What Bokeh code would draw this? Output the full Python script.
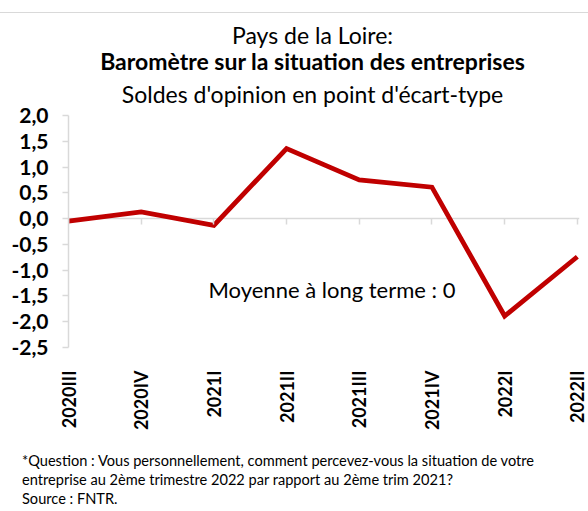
from bokeh.plotting import figure
from bokeh.models import Range1d, FixedTicker, LinearAxis, Label, Span, CustomJSTickFormatter, Div
from bokeh.layouts import column
from bokeh.embed import file_html
from bokeh.resources import INLINE

# ---- data ----
quarters = ["2020III", "2020IV", "2021I", "2021II", "2021III", "2021IV", "2022I", "2022II"]
values = [-0.05, 0.13, -0.13, 1.36, 0.75, 0.61, -1.89, -0.74]
y_ticks = [-2.5, -2.0, -1.5, -1.0, -0.5, 0.0, 0.5, 1.0, 1.5, 2.0]
y_tick_labels = ["-2,5", "-2,0", "-1,5", "-1,0", "-0,5", "0,0", "0,5", "1,0", "1,5", "2,0"]
title_lines = ["Pays de la Loire:", "Baromètre sur la situation des entreprises",
               "Soldes d'opinion en point d'écart-type"]
mean_label = "Moyenne à long terme : 0"
note_lines = ["*Question : Vous personnellement, comment percevez-vous la situation de votre",
              "entreprise au 2ème trimestre 2022 par rapport au 2ème trim 2021?",
              "Source : FNTR."]

FONT = "Lato"
GRAY = "#d9d9d9"
RED = "#c00000"
W = 588

x_pos = list(range(len(quarters)))

# ---- top rule ----
rule_div = Div(text="", width=W, height=13, margin=0,
               styles={"border-bottom": f"1px solid {GRAY}", "box-sizing": "border-box"})

# ---- title block ----
line_css = "height:22px;line-height:22px;font-size:23px;text-align:center;padding-left:37px;white-space:nowrap;"
title_html = (
    f'<div style="width:{W}px;font-family:{FONT};color:black;padding-top:11px;">'
    f'<div style="{line_css}">{title_lines[0]}</div>'
    f'<div style="margin-top:4px;{line_css}font-weight:bold;">{title_lines[1]}</div>'
    f'<div style="margin-top:11px;{line_css}">{title_lines[2]}</div>'
    '</div>'
)
title_div = Div(text=title_html, width=W, height=87, margin=0, styles={"overflow": "visible"})

# ---- chart ----
p = figure(width=W, height=333, x_range=Range1d(0, 7.03), y_range=Range1d(-2.5, 2.0),
           output_backend="svg", toolbar_location=None, margin=0,
           min_border_left=68, min_border_right=9, min_border_top=15, min_border_bottom=78)
p.grid.visible = False
p.outline_line_color = None
p.background_fill_color = "white"
p.border_fill_color = None

xa = p.below[0]
xa.ticker = FixedTicker(ticks=x_pos)
xa.formatter = CustomJSTickFormatter(args=dict(qlabels=quarters),
                                     code="const i = Math.round(tick); return qlabels[i] ?? '';")
xa.axis_line_color = None
xa.major_tick_line_color = None
xa.minor_tick_line_color = None
xa.major_label_orientation = 1.5707963
xa.major_label_standoff = 17
xa.major_label_text_font = FONT
xa.major_label_text_font_style = "bold"
xa.major_label_text_font_size = "18px"
xa.major_label_text_color = "black"

# zero line
p.add_layout(Span(location=0, dimension="width", line_color=GRAY, line_width=1.5, level="underlay"))

# tick marks hanging from the zero line
zero_axis = LinearAxis(fixed_location=0, ticker=FixedTicker(ticks=x_pos),
                       formatter=CustomJSTickFormatter(code="return ''"),
                       axis_line_color=None, major_tick_line_color=GRAY, major_tick_line_width=1.5,
                       major_tick_in=6, major_tick_out=0, minor_tick_line_color=None)
p.add_layout(zero_axis, "above")

ya = p.left[0]
ya.ticker = FixedTicker(ticks=y_ticks)
ya.formatter = CustomJSTickFormatter(args=dict(yvals=y_ticks, ylabels=y_tick_labels),
    code="const i = yvals.findIndex(t => Math.abs(t - tick) < 1e-9); return i >= 0 ? ylabels[i] : '';")
ya.axis_line_color = GRAY
ya.axis_line_width = 1.5
ya.major_tick_line_color = GRAY
ya.major_tick_line_width = 1.5
ya.major_tick_out = 6
ya.major_tick_in = 0
ya.minor_tick_line_color = None
ya.major_label_standoff = 14
ya.major_label_text_font = FONT
ya.major_label_text_font_style = "bold"
ya.major_label_text_font_size = "21px"
ya.major_label_text_color = "black"

p.line(x_pos, values, line_color=RED, line_width=4.8, line_join="miter")

p.add_layout(Label(x=140, y=58, x_units="screen", y_units="screen", text=mean_label,
                   text_align="left", text_baseline="middle", text_font=FONT,
                   text_font_size="22px", text_color="black"))

# ---- footnote block ----
note_html = (
    f'<div style="padding-top:18px;padding-left:22px;font-family:{FONT};font-size:14.6px;line-height:19px;color:black;white-space:nowrap;">'
    + "".join(f"<div>{t}</div>" for t in note_lines)
    + '</div>'
)
note_div = Div(text=note_html, width=W, height=78, margin=0)

layout = column(rule_div, title_div, p, note_div, spacing=0)

open("out.html", "w").write(file_html(layout, INLINE))
